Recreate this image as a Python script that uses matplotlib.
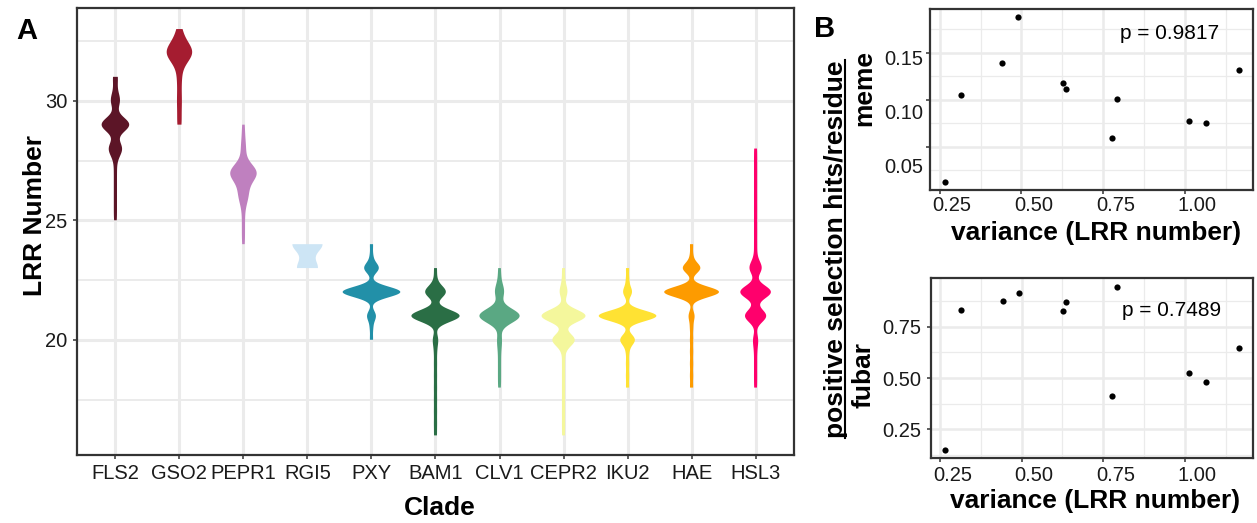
import numpy as np
import matplotlib
matplotlib.use('Agg')
from matplotlib import pyplot as plt
from matplotlib.transforms import ScaledTranslation
from matplotlib.lines import Line2D

plt.rcParams['font.family'] = ['Liberation Sans', 'DejaVu Sans']

# -------------------------------------------------
# Panel A: LRR number per clade, (LRR number, genes)
# -------------------------------------------------
clades = ['FLS2', 'GSO2', 'PEPR1', 'RGI5', 'PXY', 'BAM1', 'CLV1',
          'CEPR2', 'IKU2', 'HAE', 'HSL3']
clade_colors = ['#5c1527', '#a51c30', '#bf80bf', '#cde5f5', '#2290a8', '#2a6e45',
                '#5aa883', '#f4f79c', '#ffe233', '#fd9b00', '#ff006c']

fls2 = [(25, 1), (25.5, 1), (26, 1), (26.5, 1), (27, 1), (27.5, 1), (28, 6),
        (29, 13), (30, 4), (30.5, 1), (31, 2)]
gso2 = [(29, 2), (29.5, 1), (30, 2), (30.5, 1), (31, 2), (31.5, 1), (32, 14),
        (32.5, 3), (33, 2)]
pepr1 = [(24, 1), (24.5, 1), (25, 1), (25.5, 1), (26, 4), (26.5, 3), (27, 13),
         (27.5, 1), (28, 2), (28.5, 1), (29, 1)]
rgi5 = [(23, 11), (24, 16)]
pxy = [(20, 1), (20.5, 1), (21, 3), (22, 20), (23, 5), (23.5, 1), (24, 1)]
bam1 = [(16, 1), (16.5, 1), (17, 1), (17.5, 1), (18, 1), (18.5, 1), (19, 1),
        (19.5, 1), (20, 2), (21, 19), (22, 8), (22.5, 1), (23, 1)]
clv1 = [(18, 1), (18.5, 1), (19, 1), (19.5, 1), (20, 2), (21, 19), (22, 4),
        (22.5, 1), (23, 1)]
cepr2 = [(16, 1), (16.5, 1), (17, 1), (17.5, 1), (18, 1), (18.5, 1), (19, 1),
         (19.5, 1), (20, 9), (21, 18), (22, 3), (22.5, 1), (23, 1)]
iku2 = [(18, 1), (18.5, 1), (19, 1), (19.5, 1), (20, 5), (21, 20), (22, 3),
        (22.5, 1), (23, 1)]
hae = [(18, 1), (18.5, 1), (19, 1), (19.5, 1), (20, 1), (20.5, 1), (21, 2),
       (22, 19), (23, 6), (23.5, 1), (24, 1)]
hsl3 = [(18, 1), (18.5, 1), (19, 1), (19.5, 1), (20, 2), (21, 9), (22, 13),
        (23, 5), (23.5, 1), (24, 1), (24.5, 1), (25, 1), (25.5, 1), (26, 1),
        (26.5, 1), (27, 1), (27.5, 1), (28, 1)]
clade_data = [fls2, gso2, pepr1, rgi5, pxy, bam1, clv1, cepr2, iku2, hae, hsl3]
kde_bw = [0.30, 0.40, 0.35, 0.34, 0.22, 0.25, 0.30, 0.26, 0.22, 0.22, 0.27]

# -------------------------------------------------
# Panel B: selection hits vs LRR number variance
# -------------------------------------------------
variance_lrr = [0.266, 0.315, 0.442, 0.491, 0.627, 0.635, 0.776, 0.793, 1.013, 1.064, 1.165]
meme_hits = [0.0125, 0.1051, 0.1393, 0.188, 0.1183, 0.1115, 0.0588, 0.1009, 0.0769, 0.0748, 0.1322]
fubar_hits = [0.149, 0.831, 0.874, 0.916, 0.827, 0.872, 0.412, 0.945, 0.524, 0.479, 0.645]
meme_p = 'p = 0.9817'
fubar_p = 'p = 0.7489'

# -------------------
# Layout helpers
# -------------------
W, H = 1257, 523
FRAME = '#333333'
GRID = '#ebebeb'
TICKTXT = '#1a1a1a'


def px_axes(x0, y0, x1, y1):
    return fig.add_axes([x0 / W, 1 - y1 / H, (x1 - x0) / W, (y1 - y0) / H])


def style_axes(ax, lw_major=2.0, lw_minor=1.0):
    ax.set_axisbelow(True)
    for s in ax.spines.values():
        s.set_color(FRAME)
        s.set_linewidth(1.6)
    ax.grid(which='major', color=GRID, lw=lw_major)
    ax.grid(which='minor', color=GRID, lw=lw_minor)
    ax.tick_params(which='major', length=3, width=1.1, color=FRAME, labelcolor=TICKTXT)
    ax.tick_params(which='minor', length=0)


def shift_labels(labels, dx=0, dy=0):
    for lbl, ddx, ddy in zip(labels, np.broadcast_to(dx, len(labels)), np.broadcast_to(dy, len(labels))):
        off = ScaledTranslation(ddx / 100, ddy / 100, fig.dpi_scale_trans)
        lbl.set_transform(lbl.get_transform() + off)


fig = plt.figure(figsize=(12.57, 5.23), dpi=100)

# ---------------- Panel A ----------------
axA = px_axes(77, 8, 794, 455)
style_axes(axA, lw_major=2.2, lw_minor=1.4)

dens_all = []
for pairs, bw in zip(clade_data, kde_bw):
    vals = np.array([p[0] for p in pairs], dtype=float)
    cnts = np.array([p[1] for p in pairs], dtype=float)
    yy = np.linspace(vals.min(), vals.max(), 512)
    dd = (cnts[:, None] * np.exp(-0.5 * ((yy[None, :] - vals[:, None]) / bw) ** 2)).sum(0) / bw
    dens_all.append((yy, dd))
dmax = max(d.max() for _, d in dens_all)

for i, ((yy, dd), col) in enumerate(zip(dens_all, clade_colors)):
    hw = 0.45 * dd / dmax
    axA.fill_betweenx(yy, i - hw, i + hw, facecolor=col, edgecolor='none', lw=0, zorder=3)

axA.set_xlim(-0.6, len(clades) - 0.4)
axA.set_ylim(15.18, 33.88)
axA.set_xticks(range(len(clades)))
axA.set_xticklabels(clades, fontsize=14.5)
axA.set_yticks([20, 25, 30])
axA.set_yticks([17.5, 22.5, 27.5, 32.5], minor=True)
axA.tick_params(axis='y', labelsize=14.5, pad=4)
axA.tick_params(axis='x', pad=3.5)
axA.set_xlabel('Clade', fontsize=19, fontweight='bold', va='center')
axA.xaxis.set_label_coords(0.506, -0.119)
axA.set_ylabel('LRR Number', fontsize=19, fontweight='bold', va='center')
axA.yaxis.set_label_coords(-0.059, 0.535)

# ---------------- Panel B (meme) ----------------
xticks_b = [0.25, 0.50, 0.75, 1.00]
xminor_b = [0.375, 0.625, 0.875, 1.125]

axT = px_axes(930, 9, 1253, 190)
style_axes(axT, lw_major=1.8, lw_minor=0.9)
axT.scatter(variance_lrr, meme_hits, s=20, color='black', zorder=3, linewidths=0)
axT.set_xlim(0.2205, 1.2085)
axT.set_ylim(0.0037, 0.1968)
axT.set_xticks(xticks_b)
axT.set_xticklabels(['0.25', '0.50', '0.75', '1.00'], fontsize=14.5)
axT.set_xticks(xminor_b, minor=True)
axT.set_yticks([0.05, 0.10, 0.15])
axT.set_yticklabels(['0.05', '0.10', '0.15'], fontsize=14.5)
axT.set_yticks([0.025, 0.075, 0.125, 0.175], minor=True)
axT.tick_params(axis='x', pad=1.5)
axT.tick_params(axis='y', pad=2)
shift_labels(axT.get_xticklabels(), dx=12.5)
shift_labels(axT.get_yticklabels(), dy=[-19, -11.7, -5])
axT.text(0.743, 0.867, meme_p, transform=axT.transAxes, fontsize=15,
         ha='center', va='center', color='black')
axT.set_xlabel('variance (LRR number)', fontsize=19, fontweight='bold', va='center')
axT.xaxis.set_label_coords(0.513, -0.238)

# ---------------- Panel B (fubar) ----------------
axB = px_axes(931, 278, 1253, 458)
style_axes(axB, lw_major=1.8, lw_minor=0.9)
axB.scatter(variance_lrr, fubar_hits, s=20, color='black', zorder=3, linewidths=0)
axB.set_xlim(0.2225, 1.2085)
axB.set_ylim(0.110, 0.9875)
axB.set_xticks(xticks_b)
axB.set_xticklabels(['0.25', '0.50', '0.75', '1.00'], fontsize=14.5)
axB.set_xticks(xminor_b, minor=True)
axB.set_yticks([0.25, 0.50, 0.75])
axB.set_yticklabels(['0.25', '0.50', '0.75'], fontsize=14.5)
axB.set_yticks([0.125, 0.375, 0.625, 0.875], minor=True)
axB.tick_params(axis='x', pad=3)
axB.tick_params(axis='y', pad=4)
shift_labels(axB.get_xticklabels(), dx=12.5)
axB.text(0.748, 0.822, fubar_p, transform=axB.transAxes, fontsize=15,
         ha='center', va='center', color='black')
axB.set_xlabel('variance (LRR number)', fontsize=19, fontweight='bold', va='center')
axB.xaxis.set_label_coords(0.511, -0.239)

# ---------------- shared labels ----------------
fig.text(27 / W, 1 - 31 / H, 'A', fontsize=21, fontweight='bold', ha='center', va='center')
fig.text(825 / W, 1 - 29 / H, 'B', fontsize=21, fontweight='bold', ha='center', va='center')
fig.text(864 / W, 1 - 88 / H, 'meme', fontsize=19, fontweight='bold',
         rotation=90, ha='center', va='center')
fig.text(864 / W, 1 - 375 / H, 'fubar', fontsize=19, fontweight='bold',
         rotation=90, ha='center', va='center')
big = fig.text(836 / W, 1 - 249 / H, 'positive selection hits/residue', fontsize=19,
               fontweight='bold', rotation=90, ha='center', va='center')

# underline the shared label
fig.canvas.draw()
bb = big.get_window_extent(fig.canvas.get_renderer())
ux = (bb.x1 - 3.5) / W
fig.add_artist(Line2D([ux, ux], [bb.y0 / H, bb.y1 / H], transform=fig.transFigure,
                      color='black', lw=1.5))

fig.savefig('out.png', dpi=100)
